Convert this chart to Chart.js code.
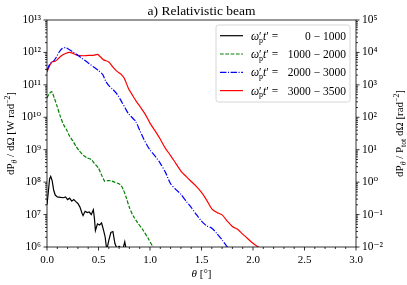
<!DOCTYPE html>
<html>
<head>
<meta charset="utf-8">
<script src="https://cdn.jsdelivr.net/npm/chart.js@4/dist/chart.umd.min.js"></script>
<style>
  html, body { margin: 0; padding: 0; background: #fff; }
</style>
</head>
<body>
<canvas id="chart" width="407" height="285"></canvas>
<script>
// theta in degrees, power in W rad^-2
const thetaBlack = [0, 0.01, 0.025, 0.036, 0.05, 0.065, 0.08, 0.1, 0.13, 0.16, 0.18, 0.2, 0.22, 0.24, 0.26, 0.28, 0.3, 0.32, 0.34, 0.35, 0.37, 0.39, 0.41, 0.43, 0.45, 0.46, 0.47, 0.49, 0.51, 0.53, 0.55, 0.565, 0.58, 0.6, 0.62, 0.64, 0.66, 0.68, 0.7, 0.72, 0.74, 0.755, 0.77];
const powerBlack = [2.0e7, 4.0e7, 1.26e8, 1.5e8, 1.12e8, 5.6e7, 4.0e7, 3.5e7, 3.4e7, 3.3e7, 3.5e7, 2.9e7, 3.2e7, 2.6e7, 2.9e7, 2.5e7, 2.2e7, 1.7e7, 1.1e7, 9.3e6, 1.26e7, 1.15e7, 1.2e7, 1.0e7, 1.4e7, 7.9e6, 3.2e6, 5.2e6, 4.8e6, 5.5e6, 3.2e6, 2.0e6, 8e5, 1.6e6, 2.8e6, 3.0e6, 1.26e6, 9e5, 1.05e6, 9e5, 9.5e5, 1.45e6, 8e5];

const thetaGreen = [0, 0.02, 0.045, 0.07, 0.1, 0.13, 0.16, 0.19, 0.22, 0.25, 0.28, 0.31, 0.35, 0.39, 0.43, 0.46, 0.5, 0.53, 0.56, 0.59, 0.62, 0.66, 0.71, 0.74, 0.77, 0.8, 0.84, 0.88, 0.93, 0.98, 1.03, 1.06];
const powerGreen = [4.0e10, 5.2e10, 6.2e10, 4.0e10, 2.1e10, 1.05e10, 6.0e9, 4.1e9, 2.6e9, 1.9e9, 1.3e9, 9.5e8, 6.9e8, 5.6e8, 5.0e8, 3.8e8, 2.7e8, 1.66e8, 1.07e8, 1.12e8, 1.1e8, 9.8e7, 8.5e7, 6.0e7, 3.3e7, 1.66e7, 8.7e6, 5.6e6, 3.4e6, 1.9e6, 1.0e6, 8e5];

const thetaBlue = [0, 0.03, 0.06, 0.09, 0.12, 0.15, 0.18, 0.21, 0.25, 0.29, 0.33, 0.37, 0.41, 0.45, 0.5, 0.54, 0.57, 0.6, 0.64, 0.68, 0.72, 0.76, 0.79, 0.83, 0.86, 0.9, 0.94, 0.97, 1.0, 1.05, 1.1, 1.15, 1.2, 1.25, 1.3, 1.35, 1.4, 1.45, 1.5, 1.55, 1.6, 1.65, 1.7, 1.76];
const powerBlue = [2.8e11, 4.5e11, 5.2e11, 7.1e11, 1.05e12, 1.35e12, 1.4e12, 1.26e12, 1.05e12, 8.7e11, 6.9e11, 5.6e11, 4.5e11, 3.6e11, 2.75e11, 2.1e11, 1.3e11, 9.5e10, 7.2e10, 5.2e10, 3.2e10, 1.9e10, 1.3e10, 9.5e9, 7.6e9, 4.0e9, 2.1e9, 1.4e9, 9.8e8, 6.3e8, 3.8e8, 2.0e8, 8.9e7, 6.0e7, 4.2e7, 2.6e7, 1.66e7, 1.0e7, 6.3e6, 4.5e6, 3.8e6, 2.6e6, 1.66e6, 9.1e5];

const thetaRed = [0, 0.03, 0.05, 0.08, 0.1, 0.14, 0.18, 0.22, 0.26, 0.3, 0.35, 0.4, 0.45, 0.49, 0.52, 0.55, 0.6, 0.64, 0.68, 0.72, 0.75, 0.79, 0.83, 0.87, 0.91, 0.95, 1.0, 1.05, 1.1, 1.15, 1.2, 1.25, 1.3, 1.35, 1.4, 1.45, 1.5, 1.55, 1.6, 1.65, 1.7, 1.75, 1.8, 1.85, 1.9, 1.95, 2.0, 2.06];
const powerRed = [2.5e11, 4.2e11, 5.2e11, 5.4e11, 6.0e11, 7.9e11, 9.3e11, 1.0e12, 9.1e11, 8.1e11, 7.9e11, 8.1e11, 8.1e11, 8.7e11, 7.2e11, 5.9e11, 5.1e11, 3.5e11, 2.6e11, 2.1e11, 1.6e11, 7.9e10, 4.8e10, 3.0e10, 2.0e10, 1.3e10, 6.6e9, 3.8e9, 2.1e9, 1.1e9, 6.6e8, 3.8e8, 2.2e8, 1.5e8, 1.05e8, 7.4e7, 4.8e7, 2.8e7, 1.5e7, 1.15e7, 9.8e6, 6.3e6, 4.3e6, 3.5e6, 2.5e6, 1.8e6, 1.3e6, 9.5e5];

const legendRanges = ['0 − 1000', '1000 − 2000', '2000 − 3000', '3000 − 3500'];
const seriesColors = ['#000000', '#008000', '#0000ff', '#ff0000'];
const seriesDashes = [[], [3.7, 1.6], [6.4, 1.6, 1, 1.6], []];

const xTickValues = [0, 0.5, 1, 1.5, 2, 2.5, 3];
const leftExps = [6, 7, 8, 9, 10, 11, 12, 13];
const rightExps = [-2, -1, 0, 1, 2, 3, 4, 5];

const SERIF = "'Liberation Serif', 'DejaVu Serif', serif";
const SUP = { '0': '⁰', '1': '¹', '2': '²', '3': '³', '4': '⁴', '5': '⁵', '6': '⁶', '7': '⁷', '8': '⁸', '9': '⁹', '-': '⁻' };

function pts(xs, ys) {
  return xs.map((x, i) => ({ x: x, y: ys[i] }));
}

// majors at every decade, minors at 2..9
function logTicks(exps) {
  const t = [];
  exps.forEach((e, i) => {
    t.push({ value: Math.pow(10, e), major: true, exp: e });
    if (i < exps.length - 1) {
      for (let m = 2; m <= 9; m++) t.push({ value: m * Math.pow(10, e), major: false });
    }
  });
  return t;
}

function powLabel(e) {
  return '10' + String(e).split('').map(c => SUP[c]).join('');
}

// text with sub/superscripts drawn left to right from (x, baseline)
function partFont(p, size) {
  const s = (p.sup || p.sub) ? size * 0.7 : size;
  return (p.it ? 'italic ' : '') + s.toFixed(1) + 'px ' + SERIF;
}
function richWidth(ctx, parts, size) {
  let w = 0, held = 0;
  parts.forEach(p => {
    ctx.font = partFont(p, size);
    const pw = ctx.measureText(p.t).width;
    if (p.keep) held = Math.max(held, pw);
    else { w += Math.max(pw, held); held = 0; }
  });
  return w + held;
}
function drawRich(ctx, parts, x, y, size) {
  ctx.textAlign = 'left';
  ctx.textBaseline = 'alphabetic';
  let cx = x, held = 0;
  parts.forEach(p => {
    ctx.font = partFont(p, size);
    const dy = p.sup ? -size * 0.4 : p.sub ? size * 0.25 : 0;
    ctx.fillText(p.t, cx, y + dy);
    const pw = ctx.measureText(p.t).width;
    if (p.keep) held = Math.max(held, pw);
    else { cx += Math.max(pw, held); held = 0; }
  });
}

const titleParts = [{ t: 'a) Relativistic beam' }];
const xTitleParts = [{ t: 'θ', it: 1 }, { t: ' [°]' }];
const yTitleParts = [{ t: 'dP' }, { t: 'θ', it: 1, sub: 1 }, { t: ' / dΩ [W rad' }, { t: '−2', sup: 1 }, { t: ']' }];
const y2TitleParts = [{ t: 'dP' }, { t: 'θ', it: 1, sub: 1 }, { t: ' / P' }, { t: 'tot', sub: 1 }, { t: ' dΩ [rad' }, { t: '−2', sup: 1 }, { t: ']' }];
const legendPrefix = [{ t: 'ω', it: 1 }, { t: '′', keep: 1 }, { t: 'p', sub: 1 }, { t: 't', it: 1 }, { t: '′' }, { t: ' =' }];

const decorations = {
  id: 'decorations',
  afterDraw(chart) {
    const ctx = chart.ctx;
    const a = chart.chartArea;
    const { x, y, y2 } = chart.scales;
    ctx.save();
    ctx.fillStyle = '#000';
    ctx.strokeStyle = '#000';
    ctx.lineWidth = 0.8;

    // frame
    ctx.strokeRect(a.left, a.top, a.right - a.left, a.bottom - a.top);

    // tick marks, pointing out
    ctx.beginPath();
    x.ticks.forEach(t => {
      const px = x.getPixelForValue(t.value);
      const len = t.major ? 3.5 : 2;
      ctx.moveTo(px, a.bottom); ctx.lineTo(px, a.bottom + len);
    });
    y.ticks.forEach(t => {
      const py = y.getPixelForValue(t.value);
      const len = t.major ? 3.5 : 2;
      ctx.moveTo(a.left, py); ctx.lineTo(a.left - len, py);
    });
    y2.ticks.forEach(t => {
      const py = y2.getPixelForValue(t.value);
      const len = t.major ? 3.5 : 2;
      ctx.moveTo(a.right, py); ctx.lineTo(a.right + len, py);
    });
    ctx.stroke();

    const cx = (a.left + a.right) / 2;
    const cy = (a.top + a.bottom) / 2;

    // title
    let w = richWidth(ctx, titleParts, 13.5);
    drawRich(ctx, titleParts, cx - w / 2, 15, 13.5);

    // x title
    w = richWidth(ctx, xTitleParts, 11);
    drawRich(ctx, xTitleParts, cx - w / 2, 277, 11);

    // y titles (rotated)
    ctx.save();
    ctx.translate(14, cy);
    ctx.rotate(-Math.PI / 2);
    w = richWidth(ctx, yTitleParts, 11);
    drawRich(ctx, yTitleParts, -w / 2, 0, 11);
    ctx.restore();

    ctx.save();
    ctx.translate(403, cy);
    ctx.rotate(-Math.PI / 2);
    w = richWidth(ctx, y2TitleParts, 11);
    drawRich(ctx, y2TitleParts, -w / 2, 0, 11);
    ctx.restore();

    // legend box
    const lx = a.right - 140, ly = a.top + 5, lw = 134, lh = 77;
    ctx.beginPath();
    ctx.roundRect(lx, ly, lw, lh, 2.5);
    ctx.fillStyle = 'rgba(255,255,255,0.8)';
    ctx.fill();
    ctx.strokeStyle = '#cccccc';
    ctx.stroke();

    chart.data.datasets.forEach((ds, i) => {
      const ry = ly + 10.7 + i * 18.3;
      ctx.save();
      ctx.strokeStyle = ds.borderColor;
      ctx.lineWidth = 1.2;
      ctx.setLineDash(ds.borderDash || []);
      ctx.beginPath();
      ctx.moveTo(lx + 4, ry); ctx.lineTo(lx + 27, ry);
      ctx.stroke();
      ctx.restore();
      ctx.fillStyle = '#000';
      drawRich(ctx, legendPrefix, lx + 35, ry + 4, 11.5);
      ctx.font = '11.5px ' + SERIF;
      ctx.textAlign = 'right';
      ctx.fillText(legendRanges[i], lx + lw - 4, ry + 4);
    });
    ctx.restore();
  }
};

const datasets = [
  [thetaBlack, powerBlack, 0],
  [thetaGreen, powerGreen, 0.25],
  [thetaBlue, powerBlue, 0.25],
  [thetaRed, powerRed, 0.25]
].map((s, i) => ({
  label: legendRanges[i],
  data: pts(s[0], s[1]),
  borderColor: seriesColors[i],
  borderDash: seriesDashes[i],
  borderWidth: 1.2,
  pointRadius: 0,
  tension: s[2],
  fill: false
}));

const tickFont = { family: SERIF, size: 11 };
const logTickFont = { family: SERIF, size: 11.5 };

new Chart(document.getElementById('chart'), {
  type: 'line',
  data: { datasets: datasets },
  options: {
    responsive: false,
    animation: false,
    events: [],
    layout: { padding: { top: 20, left: 0, right: 0, bottom: 0 } },
    plugins: { legend: { display: false }, tooltip: { enabled: false }, title: { display: false } },
    scales: {
      x: {
        type: 'linear',
        min: 0,
        max: 3,
        afterBuildTicks: s => {
          const t = [];
          for (let i = 0; i <= 30; i++) {
            const v = i / 10;
            t.push({ value: v, major: xTickValues.some(m => Math.abs(m - v) < 1e-9) });
          }
          s.ticks = t;
        },
        afterFit: s => { s.height = 38; },
        ticks: {
          autoSkip: false,
          maxRotation: 0,
          padding: 7,
          color: '#000',
          font: tickFont,
          callback: (v, i, ticks) => ticks[i].major ? v.toFixed(1) : ''
        },
        grid: { display: false, drawTicks: false },
        border: { display: false }
      },
      y: {
        type: 'logarithmic',
        position: 'left',
        min: Math.pow(10, leftExps[0]),
        max: Math.pow(10, leftExps[leftExps.length - 1]),
        afterBuildTicks: s => { s.ticks = logTicks(leftExps); },
        afterFit: s => { s.width = 47; },
        ticks: {
          autoSkip: false,
          padding: 6,
          color: '#000',
          font: logTickFont,
          callback: (v, i, ticks) => ticks[i].major ? powLabel(ticks[i].exp) : ''
        },
        grid: { display: false, drawTicks: false },
        border: { display: false }
      },
      y2: {
        type: 'logarithmic',
        position: 'right',
        min: Math.pow(10, rightExps[0]),
        max: Math.pow(10, rightExps[rightExps.length - 1]),
        afterBuildTicks: s => { s.ticks = logTicks(rightExps); },
        afterFit: s => { s.width = 51; },
        ticks: {
          autoSkip: false,
          padding: 6,
          color: '#000',
          font: logTickFont,
          callback: (v, i, ticks) => ticks[i].major ? powLabel(ticks[i].exp) : ''
        },
        grid: { display: false, drawTicks: false },
        border: { display: false }
      }
    }
  },
  plugins: [decorations]
});
</script>
</body>
</html>
